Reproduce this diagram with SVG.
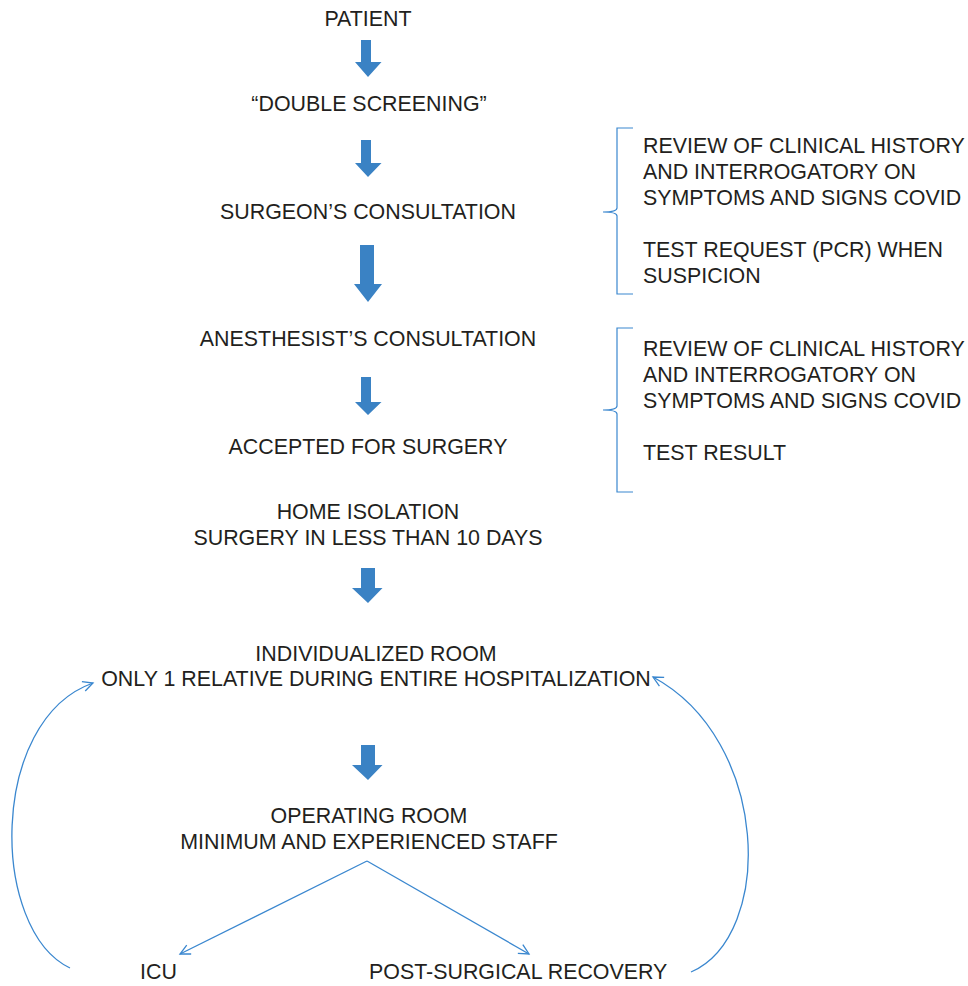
<svg xmlns="http://www.w3.org/2000/svg" width="968" height="986" viewBox="0 0 968 986">
<style>
text{font-family:"Liberation Sans",Arial,sans-serif;font-size:21.4px;fill:#231F20}
.c{text-anchor:middle}
.blk{fill:#3A82C4}
.ln{fill:none;stroke:#3A87CF;stroke-width:1.3}
.br{fill:none;stroke:#3A87CF;stroke-width:1.2}
</style>
<defs>
<marker id="ah" markerWidth="14" markerHeight="14" refX="11" refY="6" orient="auto" markerUnits="userSpaceOnUse">
<path d="M1,1 L11,6 L1,11" fill="none" stroke="#3A87CF" stroke-width="1.3"/>
</marker>
</defs>
<rect width="968" height="986" fill="#fff"/>
<g id="patient"><text class="c" x="368" y="26">PATIENT</text></g>
<g id="double-screening"><text class="c" x="369" y="111">“DOUBLE SCREENING”</text></g>
<g id="surgeon"><text class="c" x="368" y="219">SURGEON’S CONSULTATION</text></g>
<g id="anesthesist"><text class="c" x="368" y="346">ANESTHESIST’S CONSULTATION</text></g>
<g id="accepted"><text class="c" x="368" y="454">ACCEPTED FOR SURGERY</text></g>
<g id="home"><text class="c" x="368" y="519">HOME ISOLATION</text><text class="c" x="368" y="545">SURGERY IN LESS THAN 10 DAYS</text></g>
<g id="room"><text class="c" x="376" y="661">INDIVIDUALIZED ROOM</text><text class="c" x="376" y="686">ONLY 1 RELATIVE DURING ENTIRE HOSPITALIZATION</text></g>
<g id="or"><text class="c" x="369" y="823">OPERATING ROOM</text><text class="c" x="369" y="849">MINIMUM AND EXPERIENCED STAFF</text></g>
<g id="icu"><text x="140" y="979">ICU</text></g>
<g id="recovery"><text x="369" y="979">POST-SURGICAL RECOVERY</text></g>
<g id="note1">
<path class="br" d="M633,128 L617,128 L617,208 Q617,212 603,212 Q617,212 617,216 L617,294 L633,294"/>
<text x="643" y="153">REVIEW OF CLINICAL HISTORY</text>
<text x="643" y="179">AND INTERROGATORY ON</text>
<text x="643" y="205">SYMPTOMS AND SIGNS COVID</text>
<text x="643" y="257">TEST REQUEST (PCR) WHEN</text>
<text x="643" y="283">SUSPICION</text>
</g>
<g id="note2">
<path class="br" d="M633,328 L617,328 L617,406 Q617,410 603,410 Q617,410 617,414 L617,492 L633,492"/>
<text x="643" y="356">REVIEW OF CLINICAL HISTORY</text>
<text x="643" y="382">AND INTERROGATORY ON</text>
<text x="643" y="408">SYMPTOMS AND SIGNS COVID</text>
<text x="643" y="460">TEST RESULT</text>
</g>
<g id="connectors">
<path class="blk" d="M361,40 H371 V62 H381.5 L368,77 L355,62 H361 Z"/>
<path class="blk" d="M361,140 H371 V163 H381.5 L368,177 L355,163 H361 Z"/>
<path class="blk" d="M360,245 H374 V284 H382 L368,302 L354,284 H360 Z"/>
<path class="blk" d="M361,377 H371 V402 H381.5 L368,415 L355,402 H361 Z"/>
<path class="blk" d="M361,568 H375 V588 H382.5 L368,603 L352,588 H361 Z"/>
<path class="blk" d="M361,745 H375 V765 H382.5 L368,780 L352,765 H361 Z"/>
<path class="ln" d="M367,861 L180,954" marker-end="url(#ah)"/>
<path class="ln" d="M367,861 L529,954" marker-end="url(#ah)"/>
<path class="ln" d="M70,968 C-10,930 -12,720 93,683" marker-end="url(#ah)"/>
<path class="ln" d="M691,972 C775,935 770,740 653,677" marker-end="url(#ah)"/>
</g>
</svg>
